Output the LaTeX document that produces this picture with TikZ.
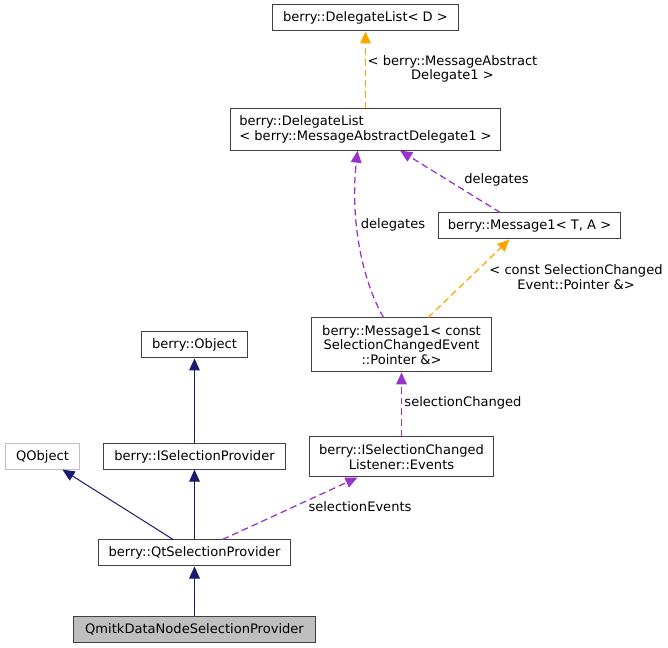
\documentclass[tikz,border=0pt]{standalone}
\usepackage{fontspec}
\setmainfont{DejaVu Sans}
\usepackage{tikz}
\usetikzlibrary{arrows.meta, positioning}
\definecolor{edgenavy}{HTML}{191970}
\definecolor{edgepurple}{HTML}{9A32CD}
\definecolor{edgeorange}{HTML}{FFA500}
\definecolor{boxgray}{HTML}{BFBFBF}

\begin{document}
\begin{tikzpicture}[x=0.75pt, y=-0.75pt,
  font=\fontsize{9.8}{11}\selectfont,
  classbox/.style={draw=black!75, line width=0.75pt, inner sep=0pt, align=center},
  inherit/.style={edgenavy, line width=0.75pt, -{Triangle[length=9pt, width=8pt]}},
  member/.style={edgepurple, line width=0.95pt, dash pattern=on 5pt off 3pt, -{Triangle[length=9pt, width=8pt]}},
  template/.style={edgeorange, line width=0.95pt, dash pattern=on 5pt off 3pt, -{Triangle[length=9pt, width=8pt]}},
  edgelabel/.style={align=center, inner sep=0pt}]
  \useasboundingbox (0,0) rectangle (668,648);

  % Delegate lists
  \node[classbox, minimum width=139.5pt, minimum height=19.5pt] (dld) at (365.5, 18) {berry::DelegateList< D >};
  \node[classbox, minimum width=202.5pt, minimum height=31pt, align=left] (dlm) at (365.5, 129.5) {berry::DelegateList\\< berry::MessageAbstractDelegate1 >};

  % Messages
  \node[classbox, minimum width=137pt, minimum height=19.5pt] (m1t) at (529.5, 226) {berry::Message1< T, A >};
  \node[classbox, minimum width=135pt, minimum height=40.5pt] (m1c) at (401.5, 345) {berry::Message1< const\\SelectionChangedEvent\\::Pointer \&>};
  \node[classbox, minimum width=138pt, minimum height=30pt] (evt) at (401.5, 457) {berry::ISelectionChanged\\Listener::Events};

  % Providers
  \node[classbox, minimum width=79pt, minimum height=19.5pt] (obj) at (194.5, 345) {berry::Object};
  \node[classbox, minimum width=136pt, minimum height=19pt] (isp) at (194.5, 456.5) {berry::ISelectionProvider};
  \node[classbox, draw=boxgray, minimum width=56pt, minimum height=19pt] (qob) at (42.5, 456.5) {QObject};
  \node[classbox, minimum width=144pt, minimum height=19.5pt] (qts) at (194.5, 553) {berry::QtSelectionProvider};
  \node[classbox, fill=boxgray, minimum width=181.5pt, minimum height=19.5pt] (qdn) at (194.5, 629) {QmitkDataNodeSelectionProvider};

  % Inheritance
  \draw[inherit] (qdn.north) -- (qts.south);
  \draw[inherit] (qts.north) -- (isp.south);
  \draw[inherit] ([xshift=-16pt]qts.north) -- ([xshift=15pt]qob.south);
  \draw[inherit] (isp.north) -- (obj.south);

  % Members
  \draw[member] ([xshift=21pt]qts.north) -- ([xshift=-33pt]evt.south);
  \node[edgelabel] (lbsev) at (360, 507) {selectionEvents};
  \draw[member] (evt.north) -- (m1c.south);
  \node[edgelabel] (lbsch) at (463, 403) {selectionChanged};
  \draw[member] ([xshift=-13.5pt]m1c.north) .. controls (362, 280) and (350, 220) .. ([xshift=-6pt]dlm.south);
  \node[edgelabel] (lbdl1) at (393, 225) {delegates};
  \draw[member] ([xshift=-22pt]m1t.north) -- ([xshift=26pt]dlm.south);
  \node[edgelabel] (lbdl2) at (496.5, 180) {delegates};

  % Template instances
  \draw[template] ([xshift=20pt]m1c.north) -- ([xshift=-15pt]m1t.south);
  \node[edgelabel] (lbptr) at (576, 277) {< const SelectionChanged\\Event::Pointer \&>};
  \draw[template] (dlm.north) -- (dld.south);
  \node[edgelabel] (lbmad) at (452.5, 69) {< berry::MessageAbstract\\Delegate1 >};
\end{tikzpicture}
\end{document}
